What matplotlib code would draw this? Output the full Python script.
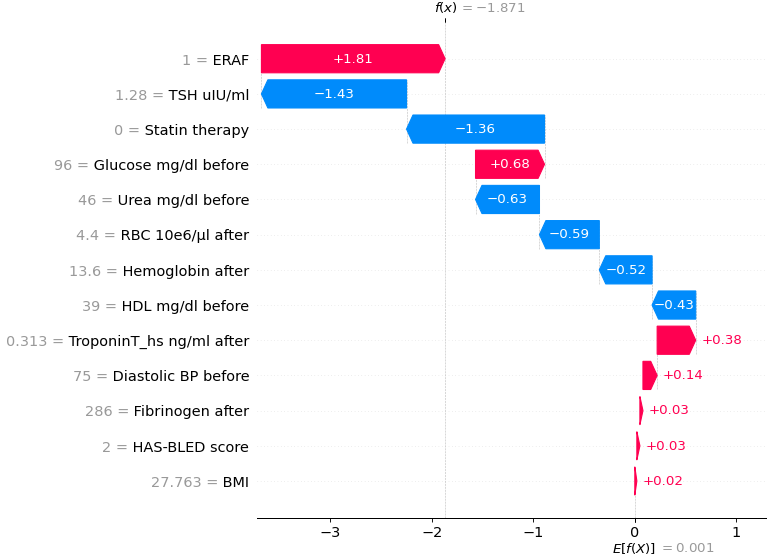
import re
import numpy as np
import matplotlib
matplotlib.use("Agg")
import matplotlib.pyplot as plt
import matplotlib.transforms as mtransforms

# ---------------- data ----------------
feature_names = ["ERAF", "TSH uIU/ml", "Statin therapy", "Glucose mg/dl before",
                 "Urea mg/dl before", "RBC 10e6/μl after", "Hemoglobin after",
                 "HDL mg/dl before", "TroponinT_hs ng/ml after", "Diastolic BP before",
                 "Fibrinogen after", "HAS-BLED score", "BMI"]
feature_values = [1, 1.28, 0, 96, 46, 4.4, 13.6, 39, 0.313, 75, 286, 2, 27.763]
shap_values = [1.81, -1.43, -1.36, 0.68, -0.63, -0.59, -0.52, -0.43, 0.38, 0.14,
               0.03, 0.03, 0.02]
base_value = 0.001
fx_value = -1.871

# ---------------- style ----------------
RED = (1.0, 0.0, 0.31796406)
BLUE = (0.0, 0.54337757, 0.98337906)
DPI = 80.5
W_PX, H_PX = 767, 556


def format_value(s, fmt):
    if not isinstance(s, str):
        s = fmt % s
    s = re.sub(r"\.?0+$", "", s)
    if s[0] == "-":
        s = "\u2212" + s[1:]
    return s


fig = plt.figure(figsize=((W_PX + 0.3) / DPI, (H_PX + 0.3) / DPI), dpi=DPI)
ax = fig.add_axes([257 / W_PX, 38.4 / H_PX, 510.5 / W_PX, 495.2 / H_PX])

values = np.array(shap_values, dtype=float)
num_features = len(values)
rng = list(range(num_features - 1, -1, -1))
loc = base_value + values.sum()
name_labels = [""] * num_features
value_labels = [""] * num_features
pos_lefts, pos_inds, pos_widths = [], [], []
neg_lefts, neg_inds, neg_widths = [], [], []

for i in range(num_features):
    sval = values[i]
    loc -= sval
    if sval >= 0:
        pos_inds.append(rng[i])
        pos_widths.append(sval)
        pos_lefts.append(loc)
    else:
        neg_inds.append(rng[i])
        neg_widths.append(sval)
        neg_lefts.append(loc)
    if i + 4 < num_features:
        ax.plot([loc, loc], [rng[i] - 1 - 0.4, rng[i] + 0.4], color="#bbbbbb",
                linestyle="--", linewidth=0.5, zorder=-1)
    value_labels[rng[i]] = format_value(float(feature_values[i]), "%0.03f") + " ="
    name_labels[rng[i]] = " " + feature_names[i]

points = (pos_lefts + list(np.array(pos_lefts) + np.array(pos_widths))
          + neg_lefts + list(np.array(neg_lefts) + np.array(neg_widths)))
dataw = np.max(points) - np.min(points)

# invisible bars for sizing the axes
label_padding = np.array([0.1 * dataw if w < 1 else 0 for w in pos_widths])
ax.barh(pos_inds, np.array(pos_widths) + label_padding + 0.02 * dataw,
        left=np.array(pos_lefts) - 0.01 * dataw, color=RED, alpha=0)
label_padding = np.array([-0.1 * dataw if -w < 1 else 0 for w in neg_widths])
ax.barh(neg_inds, np.array(neg_widths) + label_padding - 0.02 * dataw,
        left=np.array(neg_lefts) + 0.01 * dataw, color=BLUE, alpha=0)

head_length = 0.08
bar_width = 0.8
xmin, xmax = ax.get_xlim()
ax.set_xlim(xmin, xmax)
xlen = xmax - xmin
bbox = ax.get_window_extent().transformed(fig.dpi_scale_trans.inverted())
bbox_to_xscale = xlen / bbox.width
hl_scaled = bbox_to_xscale * head_length
renderer = fig.canvas.get_renderer()

for i in range(len(pos_inds)):
    dist = pos_widths[i]
    arrow_obj = ax.arrow(pos_lefts[i], pos_inds[i], max(dist - hl_scaled, 0.000001), 0,
                         head_length=min(dist, hl_scaled), color=RED,
                         width=bar_width, head_width=bar_width)
    txt_obj = ax.text(pos_lefts[i] + 0.5 * dist, pos_inds[i], format_value(dist, "%+0.02f"),
                      ha="center", va="center", color="white", fontsize=12)
    text_bbox = txt_obj.get_window_extent(renderer=renderer)
    arrow_bbox = arrow_obj.get_window_extent(renderer=renderer)
    if text_bbox.width > arrow_bbox.width:
        txt_obj.remove()
        ax.text(pos_lefts[i] + (5 / 72) * bbox_to_xscale + dist, pos_inds[i],
                format_value(dist, "%+0.02f"), ha="left", va="center", color=RED, fontsize=12)

for i in range(len(neg_inds)):
    dist = neg_widths[i]
    arrow_obj = ax.arrow(neg_lefts[i], neg_inds[i], -max(-dist - hl_scaled, 0.000001), 0,
                         head_length=min(-dist, hl_scaled), color=BLUE,
                         width=bar_width, head_width=bar_width)
    txt_obj = ax.text(neg_lefts[i] + 0.5 * dist, neg_inds[i], format_value(dist, "%+0.02f"),
                      ha="center", va="center", color="white", fontsize=12)
    text_bbox = txt_obj.get_window_extent(renderer=renderer)
    arrow_bbox = arrow_obj.get_window_extent(renderer=renderer)
    if text_bbox.width > arrow_bbox.width:
        txt_obj.remove()
        ax.text(neg_lefts[i] - (5 / 72) * bbox_to_xscale + dist, neg_inds[i],
                format_value(dist, "%+0.02f"), ha="right", va="center", color=BLUE, fontsize=12)

# y tick labels: feature names in black
ax.set_yticks(list(range(num_features)))
ax.set_yticklabels(name_labels, fontsize=13)

for i in range(num_features):
    ax.axhline(i, color="#cccccc", lw=0.5, dashes=(1, 5), zorder=-1)

ax.axvline(base_value, 0, 1 / num_features, color="#bbbbbb", linestyle="--", linewidth=0.5, zorder=-1)
fx_pos = base_value + values.sum()
ax.axvline(fx_pos, 0, 1, color="#bbbbbb", linestyle="--", linewidth=0.5, zorder=-1)

ax.xaxis.set_ticks_position("bottom")
ax.yaxis.set_ticks_position("none")
for s in ["right", "top", "left"]:
    ax.spines[s].set_visible(False)
ax.tick_params(labelsize=13)

# E[f(X)] tick mark
xmin, xmax = ax.get_xlim()
ax2 = ax.twiny()
ax2.set_xlim(xmin, xmax)
ax2.set_xticks([base_value, base_value + 1e-8])
ax2.set_xticklabels(["$E[f(X)]$", "$ = " + format_value(base_value, "%0.03f") + "$"],
                    fontsize=12, ha="left")
for s in ["right", "top", "left"]:
    ax2.spines[s].set_visible(False)

# f(x) tick mark
ax3 = ax2.twiny()
ax3.set_xlim(xmin, xmax)
ax3.set_xticks([fx_pos, fx_pos + 1e-8])
ax3.set_xticklabels(["$f(x)$", "$ = " + format_value(fx_value, "%0.03f") + "$"],
                    fontsize=12, ha="left")
tick_labels = ax3.xaxis.get_majorticklabels()
tick_labels[0].set_transform(tick_labels[0].get_transform()
                             + mtransforms.ScaledTranslation(-10 / 72., 0, fig.dpi_scale_trans))
tick_labels[1].set_transform(tick_labels[1].get_transform()
                             + mtransforms.ScaledTranslation(12 / 72., 0, fig.dpi_scale_trans))
tick_labels[1].set_color("#999999")
for s in ["right", "top", "left"]:
    ax3.spines[s].set_visible(False)

ax2.tick_params(axis="x", pad=17.5)
tick_labels = ax2.xaxis.get_majorticklabels()
tick_labels[0].set_transform(tick_labels[0].get_transform()
                             + mtransforms.ScaledTranslation(-20 / 72., 0, fig.dpi_scale_trans))
tick_labels[1].set_transform(tick_labels[1].get_transform()
                             + mtransforms.ScaledTranslation(22 / 72., -1 / 72., fig.dpi_scale_trans))
tick_labels[1].set_color("#999999")

# gray "value =" prefixes placed just left of each feature name
fig.canvas.draw()
renderer = fig.canvas.get_renderer()
blend = mtransforms.blended_transform_factory(ax.transAxes, ax.transData)
for pos, lab in zip(range(num_features), ax.yaxis.get_majorticklabels()):
    bb = lab.get_window_extent(renderer=renderer)
    x_ax = ax.transAxes.inverted().transform((bb.x0, 0))[0]
    ax.text(x_ax, pos, value_labels[pos], transform=blend, ha="right",
            va="center_baseline", color="#999999", fontsize=13)

fig.savefig("out.png", dpi=DPI)
